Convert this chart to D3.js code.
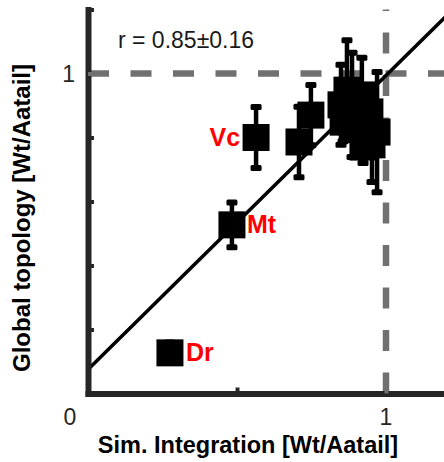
<!DOCTYPE html>
<html><head><meta charset="utf-8">
<script src="https://cdn.jsdelivr.net/npm/d3@7"></script>
<style>body{margin:0;background:#fff}svg{display:block}text{font-family:Arial,"Liberation Sans",sans-serif}</style>
</head><body>
<svg id="c" width="444" height="462"></svg>
<script>
// ---- data ----
const pointNames     = ["Dr",  "Mt",  "Vc",  "p4",  "p5",  "p6",  "p7",  "p8",  "p9",  "p10", "p11", "p12", "p13", "p14", "p15"];
const simIntegration = [0.275, 0.483, 0.564, 0.708, 0.748, 0.849, 0.869, 0.886, 0.919, 0.970, 0.953, 0.923, 0.903, 0.946, 0.856];
const globalTopology = [0.127, 0.527, 0.800, 0.786, 0.870, 0.902, 0.948, 0.902, 0.933, 0.817, 0.777, 0.770, 0.839, 0.880, 0.848];
const topologyErr    = [0.032, 0.070, 0.095, 0.110, 0.094, 0.125, 0.156, 0.163, 0.116, 0.188, 0.116, 0.050, 0.060, 0.060, 0.060];
const labelledPoints = ["Dr", "Mt", "Vc"];
const fitSlope = 0.919, fitIntercept = 0.075;
const correlationText = "r = 0.85±0.16";
const xTickValues = [0.5, 1, 1.2];
const yTickValues = [0.2, 0.4, 0.6, 0.8, 1, 1.2];
const xTickLabels = [{v: 0, t: "0"}, {v: 1, t: "1"}];
const yTickLabels = [{v: 1, t: "1"}];
const xTitle = "Sim. Integration [Wt/Aatail]";
const yTitle = "Global topology [Wt/Aatail]";
const refValue = 1;

// ---- drawing ----
const svg = d3.select("#c");
svg.append("rect").attr("width", 444).attr("height", 462).attr("fill", "#fff");
const x = d3.scaleLinear().domain([0, 1.2]).range([88, 445.6]);
const y = d3.scaleLinear().domain([0, 1.2]).range([393.5, 9.5]);
const axisCol = "#262626";

// dashed reference lines
svg.append("line").attr("x1", x(0)).attr("x2", x(1.2)).attr("y1", y(refValue)).attr("y2", y(refValue))
  .attr("stroke", "#707070").attr("stroke-width", 6.5).attr("stroke-dasharray", "21,21.5");
svg.append("line").attr("x1", x(refValue)).attr("x2", x(refValue)).attr("y1", y(0)).attr("y2", y(1.2))
  .attr("stroke", "#707070").attr("stroke-width", 6.5).attr("stroke-dasharray", "21,21.5");

const data = pointNames.map((n, i) => ({n, x: simIntegration[i], y: globalTopology[i], e: topologyErr[i]}));

// error bars + squares
const g = svg.append("g");
data.forEach(d => {
  g.append("line").attr("x1", x(d.x)).attr("x2", x(d.x)).attr("y1", y(d.y - d.e)).attr("y2", y(d.y + d.e))
    .attr("stroke", "#000").attr("stroke-width", 4.5);
  [d.y - d.e, d.y + d.e].forEach(v => {
    g.append("rect").attr("x", x(d.x) - 5.5).attr("y", y(v) - 3).attr("width", 11).attr("height", 6)
      .attr("rx", 1.5).attr("fill", "#000");
  });
});
data.forEach(d => {
  g.append("rect").attr("x", x(d.x) - 13.5).attr("y", y(d.y) - 13.5).attr("width", 27).attr("height", 27).attr("fill", "#000");
});

// regression line
svg.append("line").attr("x1", x(0)).attr("y1", y(fitIntercept)).attr("x2", x(1.2)).attr("y2", y(fitIntercept + fitSlope * 1.2))
  .attr("stroke", "#000").attr("stroke-width", 3.5);

// labels
const labelPos = {Dr: {dx: 16, anchor: "start"}, Mt: {dx: 15, anchor: "start"}, Vc: {dx: -16, anchor: "end"}};
data.filter(d => labelledPoints.includes(d.n)).forEach(d => {
  const p = labelPos[d.n];
  svg.append("text").attr("x", x(d.x) + p.dx).attr("y", y(d.y) + 8).attr("text-anchor", p.anchor)
    .attr("font-size", 25).attr("font-weight", "bold").attr("fill", "#ff0000").text(d.n);
});

// axes
const yAxis = d3.axisLeft(y).tickValues(yTickValues).tickSizeInner(-6).tickSizeOuter(0).tickFormat("");
const xAxis = d3.axisBottom(x).tickValues(xTickValues).tickSizeInner(-6).tickSizeOuter(0).tickFormat("");
const ya = svg.append("g").attr("transform", `translate(${x(0)},0)`).call(yAxis);
const xa = svg.append("g").attr("transform", `translate(0,${y(0)})`).call(xAxis);
[ya, xa].forEach(a => {
  a.select(".domain").attr("stroke", axisCol).attr("stroke-width", 6).attr("stroke-linecap", "square");
  a.selectAll(".tick line").attr("stroke", axisCol).attr("stroke-width", 4);
});
xa.selectAll(".tick").filter(d => d === 1).select("line").attr("stroke", "#707070");
ya.selectAll(".tick").filter(d => d === 1).select("line").attr("stroke", "#707070");

// tick labels
xTickLabels.forEach(l => {
  svg.append("text").attr("x", l.v === 0 ? x(l.v) - 18 : x(l.v)).attr("y", 425).attr("text-anchor", "middle")
    .attr("font-size", 23).attr("fill", axisCol).text(l.t);
});
yTickLabels.forEach(l => {
  svg.append("text").attr("x", x(0) - 13).attr("y", y(l.v) + 8.5).attr("text-anchor", "end")
    .attr("font-size", 23).attr("fill", axisCol).text(l.t);
});

// correlation text
svg.append("text").attr("x", 118).attr("y", 48).attr("font-size", 23).attr("fill", "#1a1a1a").text(correlationText);

// titles
svg.append("text").attr("x", 248).attr("y", 453).attr("text-anchor", "middle").attr("font-size", 23.5)
  .attr("font-weight", "bold").attr("fill", "#000").text(xTitle);
svg.append("text").attr("transform", "translate(30,218) rotate(-90)").attr("text-anchor", "middle").attr("font-size", 24)
  .attr("font-weight", "bold").attr("fill", "#000").text(yTitle);
</script>
</body></html>
